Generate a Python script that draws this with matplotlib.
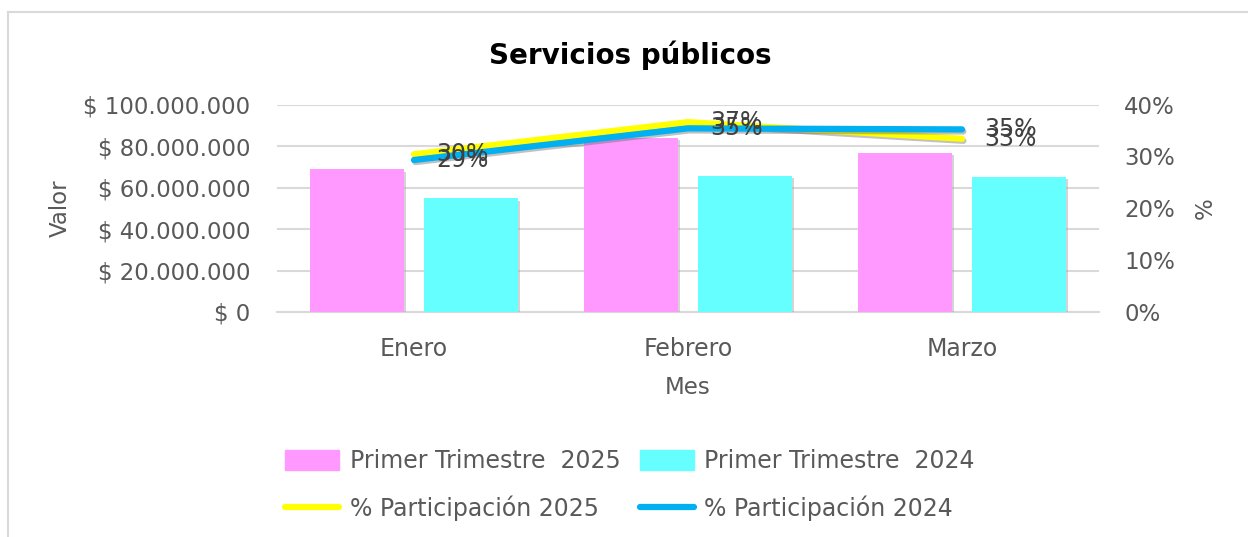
import numpy as np
import matplotlib
matplotlib.use('Agg')
import matplotlib.pyplot as plt
import matplotlib.patheffects as pe
from matplotlib.lines import Line2D
from matplotlib.ticker import FuncFormatter, MultipleLocator


###  Data

meses = ['Enero', 'Febrero', 'Marzo']
valor_2025 = [68.7e6, 83.7e6, 76.6e6]
valor_2024 = [54.7e6, 65.5e6, 65.2e6]
pct_2025 = [0.304, 0.366, 0.334]
pct_2024 = [0.293, 0.354, 0.352]


###  Style

gris_txt = '#595959'
gris_grid = '#d9d9d9'
c_rosa = '#ff99ff'
c_cian = '#66ffff'
c_amar = '#ffff00'
c_azul = '#00b0f0'

plt.rcParams['font.family'] = ['DejaVu Sans']

fig = plt.figure(figsize=(12.48, 5.37), dpi=100)
W, H = 1248, 537
ax = fig.add_axes([277/W, 1 - 312/H, (1099-277)/W, (312-104.5)/H])
ax2 = ax.twinx()

x = np.arange(len(meses))
ancho = 0.34
sombra = [pe.SimplePatchShadow(offset=(1.5, -1.5), shadow_rgbFace='#aaaaaa', alpha=0.5), pe.Normal()]

b1 = ax.bar(x - 0.208, valor_2025, ancho, color=c_rosa, zorder=3, path_effects=sombra)
b2 = ax.bar(x + 0.208, valor_2024, ancho, color=c_cian, zorder=3, path_effects=sombra)

ax.set_xlim(-0.5, 2.5)
ax.set_ylim(0, 100e6)
ax.yaxis.set_major_locator(MultipleLocator(20e6))
ax.yaxis.set_major_formatter(FuncFormatter(
    lambda v, p: '$ 0' if v == 0 else '$ ' + format(int(v), ',').replace(',', '.')))
ax.grid(axis='y', color=gris_grid, linewidth=1.5, zorder=0)
ax.set_axisbelow(True)
for s in ['top', 'left', 'right']:
    ax.spines[s].set_visible(False)
ax.spines['bottom'].set_color(gris_grid)
ax.spines['bottom'].set_linewidth(1.5)
ax.tick_params(axis='y', length=0, labelsize=16.5, labelcolor=gris_txt, pad=19)
ax.tick_params(axis='x', length=0, labelsize=17, labelcolor=gris_txt, pad=18)
ax.set_xticks(x)
ax.set_xticklabels(meses)

sombra_l = [pe.SimpleLineShadow(offset=(1, -1.5), shadow_color='#666666', alpha=0.4), pe.Normal()]
l1, = ax2.plot(x, pct_2025, color=c_amar, linewidth=4.5, solid_capstyle='round',
               zorder=4, path_effects=sombra_l)
l2, = ax2.plot(x, pct_2024, color=c_azul, linewidth=4.5, solid_capstyle='round',
               zorder=5, path_effects=sombra_l)
ax2.set_ylim(0, 0.40)
ax2.yaxis.set_major_locator(MultipleLocator(0.10))
ax2.yaxis.set_major_formatter(FuncFormatter(lambda v, p: '%d%%' % round(v*100)))
for s in ['top', 'left', 'right', 'bottom']:
    ax2.spines[s].set_visible(False)
ax2.tick_params(axis='y', length=0, labelsize=16.5, labelcolor=gris_txt, pad=18)

for serie in [pct_2025, pct_2024]:
    for i, v in enumerate(serie):
        ax2.annotate('%d%%' % round(v*100), (x[i], v), xytext=(22, 0),
                     textcoords='offset pixels', va='center', ha='left',
                     fontsize=17, color='#404040', zorder=6)

###  Titles and labels

fig.text(630/W, 1 - 55/H, 'Servicios públicos', ha='center', va='center',
         fontsize=20, fontweight='bold', color='black')
fig.text(60/W, 1 - 208/H, 'Valor', rotation=90, ha='center', va='center',
         fontsize=16.5, color=gris_txt)
fig.text(1205/W, 1 - 208/H, '%', rotation=90, ha='center', va='center',
         fontsize=16.5, color=gris_txt)
fig.text(688/W, 1 - 388/H, 'Mes', ha='center', va='center', fontsize=16.5, color=gris_txt)

###  Legend

h1 = plt.Rectangle((0, 0), 1, 1, color=c_rosa)
h2 = plt.Rectangle((0, 0), 1, 1, color=c_cian)
h3 = Line2D([], [], color=c_amar, linewidth=4.5, solid_capstyle='round')
h4 = Line2D([], [], color=c_azul, linewidth=4.5, solid_capstyle='round')
leg = fig.legend([h1, h3, h2, h4],
                 ['Primer Trimestre  2025', '% Participación 2025',
                  'Primer Trimestre  2024', '% Participación 2024'],
                 ncol=2, loc='center', bbox_to_anchor=(630/W, 1 - 485/H),
                 frameon=False, fontsize=17, labelcolor=gris_txt,
                 handlelength=2.3, handleheight=0.9, handletextpad=0.45,
                 columnspacing=0.8, labelspacing=0.95)

###  Chart border

fig.add_artist(Line2D([8/W, 1], [1 - 12/H, 1 - 12/H], color=gris_grid, linewidth=1.5))
fig.add_artist(Line2D([8/W, 8/W], [0, 1 - 12/H], color=gris_grid, linewidth=1.5))

fig.savefig('out.png', dpi=100)
